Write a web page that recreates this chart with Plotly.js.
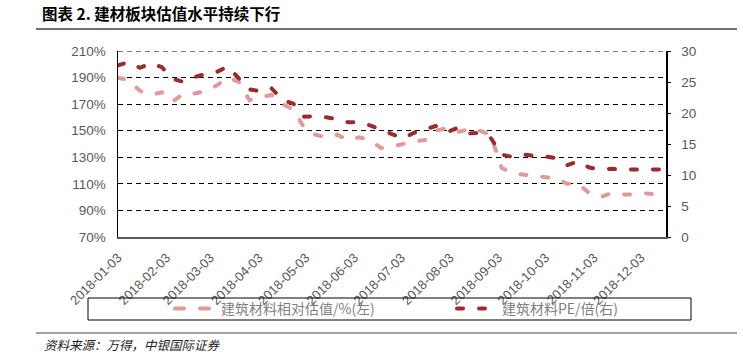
<!DOCTYPE html>
<html>
<head>
<meta charset="utf-8">
<script src="https://cdn.plot.ly/plotly-3.0.1.min.js"></script>
<style>
  html, body { margin: 0; padding: 0; background: #fff; }
  #chart { width: 743px; height: 364px; }
  path.js-line { stroke-linecap: round; }
</style>
</head>
<body>
<div id="chart"></div>
<script>
// ---- data (weekly readings) ----
const dates = [
  '2018-01-03','2018-01-10','2018-01-17','2018-01-24','2018-01-31',
  '2018-02-07','2018-02-14','2018-02-21','2018-02-28','2018-03-07',
  '2018-03-14','2018-03-21','2018-03-28','2018-04-04','2018-04-11',
  '2018-04-18','2018-04-25','2018-05-02','2018-05-09','2018-05-16',
  '2018-05-23','2018-05-30','2018-06-06','2018-06-13','2018-06-20',
  '2018-06-27','2018-07-04','2018-07-11','2018-07-18','2018-07-25',
  '2018-08-01','2018-08-08','2018-08-15','2018-08-22','2018-08-29',
  '2018-09-05','2018-09-12','2018-09-19','2018-09-26','2018-10-03',
  '2018-10-10','2018-10-17','2018-10-24','2018-10-31','2018-11-07',
  '2018-11-14','2018-11-21','2018-11-28','2018-12-05','2018-12-12',
  '2018-12-19'
];
// 建筑材料相对估值 (%), left axis
const relValue = [
  190, 188, 180, 177, 179,
  172, 178, 178, 180, 184,
  190, 187, 173, 175, 177,
  170, 166, 152, 147, 145,
  147, 143, 145, 143, 137,
  138, 140, 142, 143, 150,
  152, 149, 151, 150, 147,
  122, 118, 117, 116, 115,
  114, 110, 110, 103, 100,
  103, 102, 102, 103, 102,
  100
];
// 建筑材料 PE (倍), right axis
const peValue = [
  27.7, 28.2, 27.3, 28.0, 27.4,
  25.5, 25.0, 25.8, 26.3, 26.6,
  27.5, 25.6, 23.8, 23.5, 24.0,
  22.1, 21.5, 19.4, 19.5, 19.3,
  19.0, 18.5, 18.5, 18.0, 17.3,
  16.6, 15.9, 16.8, 17.4, 17.9,
  16.9, 17.6, 16.7, 16.8, 16.0,
  13.3, 12.9, 13.3, 13.1, 13.0,
  12.7, 11.6, 12.2, 11.2, 10.9,
  11.0, 10.9, 10.9, 10.9, 10.8,
  10.9
];
const seriesNames = ['建筑材料相对估值/%(左)', '建筑材料PE/倍(右)'];
const chartTitle = '图表 2. 建材板块估值水平持续下行';
const sourceText = '资料来源：万得，中银国际证券';

// ---- styling ----
const numFont = "'Liberation Sans Narrow', 'Arial Narrow', 'Liberation Sans', Arial, sans-serif";
const cjkFont = "'Noto Sans CJK SC', 'Noto Sans', sans-serif";
const tickGrey = '#595959';

const traces = [
  {
    x: dates, y: relValue, name: seriesNames[0], type: 'scatter', mode: 'lines',
    yaxis: 'y', legend: 'legend',
    line: { color: '#E09A9A', width: 4, dash: '6px,16px' }
  },
  {
    x: dates, y: peValue, name: seriesNames[1], type: 'scatter', mode: 'lines',
    yaxis: 'y2', legend: 'legend2',
    line: { color: '#9A2B2E', width: 4, dash: '6px,16px' }
  }
];

const legendCommon = {
  orientation: 'h', xanchor: 'left', yanchor: 'middle', yref: 'paper', xref: 'paper',
  bgcolor: 'rgba(0,0,0,0)', borderwidth: 0, itemwidth: 40,
  font: { family: cjkFont, size: 14, color: '#7f7f7f' }
};

const layout = {
  width: 743, height: 364,
  margin: { l: 118, r: 77, t: 51, b: 127, pad: 0 },
  paper_bgcolor: '#fff', plot_bgcolor: '#fff',
  showlegend: true,
  title: {
    text: '<b>' + chartTitle + '</b>',
    xref: 'container', yref: 'container',
    x: 42 / 743, xanchor: 'left', y: 1 - 15 / 364, yanchor: 'middle',
    font: { family: cjkFont, size: 15.5, color: '#000' }
  },
  xaxis: {
    type: 'date', range: ['2018-01-03', '2018-12-19'],
    tick0: '2018-01-03', dtick: 'M1', tickformat: '%Y-%m-%d', tickangle: -45,
    showgrid: false, zeroline: false, showline: true, linecolor: '#595959', linewidth: 2,
    ticks: '', ticklabelstandoff: 6,
    tickfont: { family: numFont, size: 13, color: tickGrey }
  },
  yaxis: {
    range: [70, 210], tick0: 70, dtick: 20, ticksuffix: '%',
    showgrid: true, gridcolor: '#000', gridwidth: 1, griddash: '5px,4px',
    zeroline: false, showline: true, linecolor: '#000', linewidth: 1.5,
    ticks: '', ticklabelstandoff: 8,
    tickfont: { family: numFont, size: 13.5, color: tickGrey }
  },
  yaxis2: {
    range: [0, 30], tick0: 0, dtick: 5, overlaying: 'y', side: 'right',
    showgrid: false, zeroline: false, showline: true, linecolor: '#000', linewidth: 1.5,
    ticks: 'outside', ticklen: 3, tickcolor: '#000', tickwidth: 1, ticklabelstandoff: 8,
    tickfont: { family: numFont, size: 13.5, color: tickGrey }
  },
  legend: Object.assign({}, legendCommon, { x: (171 - 118) / 548, y: (237 - 309) / 186 }),
  legend2: Object.assign({}, legendCommon, { x: (452 - 118) / 548, y: (237 - 309) / 186 }),
  shapes: [
    { type: 'line', xref: 'paper', yref: 'y', x0: 0, x1: 1, y0: 210, y1: 210,
      line: { color: '#000', width: 1, dash: '5px,4px' } },
    { type: 'line', xref: 'paper', yref: 'paper', x0: -0.1496, x1: 1.1296, y0: 1.1183, y1: 1.1183,
      line: { color: '#404040', width: 1.5 } },
    { type: 'line', xref: 'paper', yref: 'paper', x0: -0.1496, x1: 1.1296, y0: -0.516, y1: -0.516,
      line: { color: '#808080', width: 1.5 } },
    { type: 'rect', xref: 'paper', yref: 'paper', x0: (88 - 118) / 548, x1: (691 - 118) / 548,
      y0: (237 - 298) / 186, y1: (237 - 320) / 186, line: { color: '#000', width: 1 },
      fillcolor: 'rgba(0,0,0,0)' }
  ],
  annotations: [
    { text: sourceText, xref: 'paper', yref: 'paper', x: (42 - 118) / 548, y: (237 - 344) / 186,
      xanchor: 'left', yanchor: 'middle', showarrow: false,
      font: { family: cjkFont, size: 12.5, color: '#222', style: 'italic' } }
  ]
};

Plotly.newPlot('chart', traces, layout, { staticPlot: true, displayModeBar: false }).then(function (gd) {
  // legend key: two dashes, like the original
  gd.querySelectorAll('.legend path.js-line').forEach(function (p) {
    p.setAttribute('d', 'M4,0h34');
    p.style.strokeDasharray = '9px,16px';
  });
});
</script>
</body>
</html>
